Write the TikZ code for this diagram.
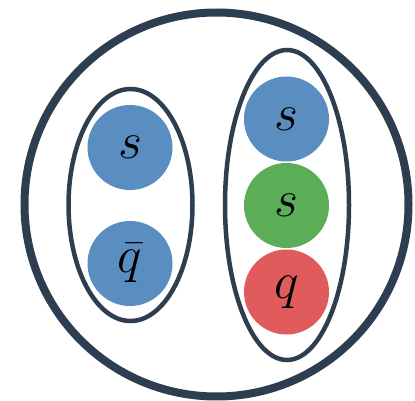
\documentclass[tikz,border=0pt]{standalone}
\usepackage{graphicx}
\usetikzlibrary{shapes.geometric}
\definecolor{navy}{HTML}{2C3E50}
\definecolor{qblue}{HTML}{5A8DC0}
\definecolor{qgreen}{HTML}{5CAD57}
\definecolor{qred}{HTML}{E05B5B}
\newcommand{\bigq}[1]{\scalebox{2.09}{\Huge$#1$}}
\begin{document}
\begin{tikzpicture}[x=1pt,y=-1pt,
  quark/.style={circle,minimum size=85pt,inner sep=0pt},
  ring/.style={draw=navy,line width=4.5pt}]
\useasboundingbox (0,0) rectangle (415,401);
\fill[white] (0,0) rectangle (415,401);
\node[circle,draw=navy,line width=8pt,minimum size=384pt,inner sep=0pt] (outer) at (216.5,204.5) {};
\node[ellipse,ring,minimum width=124pt,minimum height=232pt,inner sep=0pt] (meson) at (130.5,205) {};
\node[ellipse,ring,minimum width=124pt,minimum height=310pt,inner sep=0pt] (baryon) at (287,205) {};
\node[quark,fill=qblue] (s1) at (130,147.5) {\bigq{s}};
\node[quark,fill=qblue] (qb) at (130,263.5) {\bigq{\bar{q}}};
\node[quark,fill=qblue] (s2) at (286.5,119) {\bigq{s}};
\node[quark,fill=qgreen] (s3) at (286.5,205.5) {\bigq{s}};
\node[quark,fill=qred] (q) at (286.5,292) {\bigq{q}};
\end{tikzpicture}
\end{document}
